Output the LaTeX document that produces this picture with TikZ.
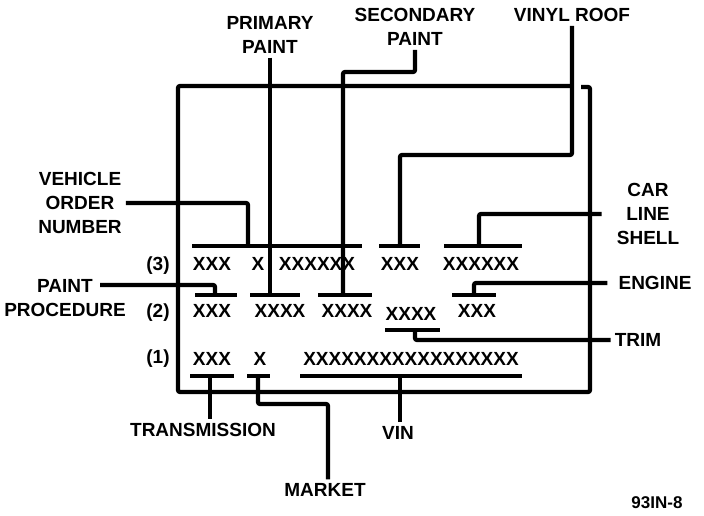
\documentclass[tikz,border=0pt]{standalone}
\usepackage{fontspec}
\setmainfont{Liberation Sans}
\usepackage{xcolor}
\usepackage{tikz}
\usetikzlibrary{calc}
\definecolor{ink}{HTML}{000000}
\definecolor{paper}{HTML}{FFFFFF}
\tikzset{
  frameLine/.style={draw=ink, line width=4.2pt, rounded corners=2pt},
  leadLine/.style={draw=ink, line width=4.2pt, rounded corners=2pt},
  tickBar/.style={draw=ink, line width=4.2pt},
  capLbl/.style={text=ink, font=\fontsize{19}{24}\selectfont\bfseries, align=center, inner sep=4pt},
  codeTxt/.style={text=ink, font=\fontsize{19}{24}\selectfont\bfseries, inner sep=0pt},
  rowLbl/.style={text=ink, font=\fontsize{19}{24}\selectfont\bfseries, inner sep=0pt},
  figLbl/.style={text=ink, font=\fontsize{17}{20}\selectfont\bfseries, inner sep=0pt},
}
\newcommand{\PlateTicks}{%
  \coordinate (t3aL) at (192,246); \coordinate (t3aR) at (362,246); % row (3)
  \coordinate (t3bL) at (379,246); \coordinate (t3bR) at (420,246);
  \coordinate (t3cL) at (444,246); \coordinate (t3cR) at (522,246);
  \coordinate (t2aL) at (195,295); \coordinate (t2aR) at (237,295); % row (2)
  \coordinate (t2bL) at (250,295); \coordinate (t2bR) at (300,295);
  \coordinate (t2cL) at (318,295); \coordinate (t2cR) at (372,295);
  \coordinate (t2dL) at (385,330); \coordinate (t2dR) at (440,330);
  \coordinate (t2eL) at (452,295); \coordinate (t2eR) at (496,295);
  \coordinate (t1aL) at (190,376); \coordinate (t1aR) at (234,376); % row (1)
  \coordinate (t1bL) at (247,376); \coordinate (t1bR) at (270,376);
  \coordinate (t1cL) at (300,376); \coordinate (t1cR) at (522,376);
}
\newcommand{\LeaderFeet}{%
  \coordinate (tVO)    at (248,246);
  \coordinate (tRoof)  at (400,246);
  \coordinate (tCar)   at (479,246);
  \coordinate (tPP)    at (215,295);
  \coordinate (tPri)   at (270,295);
  \coordinate (tSec)   at (343,295);
  \coordinate (tEng)   at (474,295);
  \coordinate (tTrim)  at (415,330);
  \coordinate (tTrans) at (210,376);
  \coordinate (tMkt)   at (258,376);
  \coordinate (tVin)   at (400,376);
  \coordinate (secBend)  at (343,72);
  \coordinate (roofBend) at (400,155);
  \coordinate (mktBend)  at (328,404);
  \coordinate (ppStart)  at (100,285);
}

\begin{document}
\begin{tikzpicture}[x=1pt, y=-1pt]
  \fill[paper] (0,0) rectangle (704,516);
  \useasboundingbox (0,0) rectangle (704,516);
  \PlateTicks
  \LeaderFeet

  \draw[frameLine] (573,86) -- (178,86) -- (178,392) -- (590,392) -- (590,87) -- (581,87);

  % code rows
  \node[rowLbl] (rowC) at (158,266) {(3)};
  \node[rowLbl] (rowB) at (158,313) {(2)};
  \node[rowLbl] (rowA) at (158,359) {(1)};

  \node[codeTxt] (c3a) at (212,264) {XXX};
  \node[codeTxt] (c3b) at (258,264) {X};
  \node[codeTxt] (c3c) at (317,264) {XXXXXX};
  \node[codeTxt] (c3d) at (400,264) {XXX};
  \node[codeTxt] (c3e) at (481,264) {XXXXXX};

  \node[codeTxt] (c2a) at (212,311) {XXX};
  \node[codeTxt] (c2b) at (280,311) {XXXX};
  \node[codeTxt] (c2c) at (347,311) {XXXX};
  \node[codeTxt] (c2d) at (411,314) {XXXX};
  \node[codeTxt] (c2e) at (477,311) {XXX};

  \node[codeTxt] (c1a) at (212,359) {XXX};
  \node[codeTxt] (c1b) at (260,359) {X};
  \node[codeTxt] (c1c) at (411,359) {XXXXXXXXXXXXXXXXX};

  \draw[tickBar] (t3aL) -- (t3aR);
  \draw[tickBar] (t3bL) -- (t3bR);
  \draw[tickBar] (t3cL) -- (t3cR);
  \draw[tickBar] (t2aL) -- (t2aR);
  \draw[tickBar] (t2bL) -- (t2bR);
  \draw[tickBar] (t2cL) -- (t2cR);
  \draw[tickBar] (t2dL) -- (t2dR);
  \draw[tickBar] (t2eL) -- (t2eR);
  \draw[tickBar] (t1aL) -- (t1aR);
  \draw[tickBar] (t1bL) -- (t1bR);
  \draw[tickBar] (t1cL) -- (t1cR);

  % labels
  \node[capLbl] (primary)   at (270,35)  {PRIMARY\\PAINT};
  \node[capLbl] (secondary) at (415,27)  {SECONDARY\\PAINT};
  \node[capLbl] (vinyl)     at (572,15)  {VINYL ROOF};
  \node[capLbl] (carLine)   at (648,214) {CAR\\LINE\\SHELL};
  \node[capLbl] (engine)    at (655,283) {ENGINE};
  \node[capLbl] (trim)      at (638,340) {TRIM};
  \node[capLbl] (vehOrder)  at (80,203)  {VEHICLE\\ORDER\\NUMBER};
  \node[capLbl] (paintProc) at (65,298)  {PAINT\\PROCEDURE};
  \node[capLbl] (trans)     at (203,430) {TRANSMISSION};
  \node[capLbl] (vin)       at (398,433) {VIN};
  \node[capLbl] (market)    at (325,490) {MARKET};
  \node[figLbl] (figNum)    at (657,503) {93IN-8};

  % leaders
  \draw[leadLine] (vehOrder.east) -| (tVO);
  \draw[leadLine] (ppStart) -| (tPP);
  \draw[leadLine] (primary.south) -- (tPri);
  \draw[leadLine] (secondary.south) |- (secBend) -- (tSec);
  \draw[leadLine] (vinyl.south) |- (roofBend) -- (tRoof);
  \draw[leadLine] ([xshift=-11pt]carLine.west) -| (tCar);
  \draw[leadLine] ([xshift=-7pt]engine.west) -| (tEng);
  \draw[leadLine] (trim.west) -| (tTrim);
  \draw[leadLine] (tTrans) -- (tTrans |- trans.north);
  \draw[leadLine] (tMkt) |- (mktBend) -- (mktBend |- market.north);
  \draw[leadLine] (tVin) -- (tVin |- vin.north);
\end{tikzpicture}
\end{document}
